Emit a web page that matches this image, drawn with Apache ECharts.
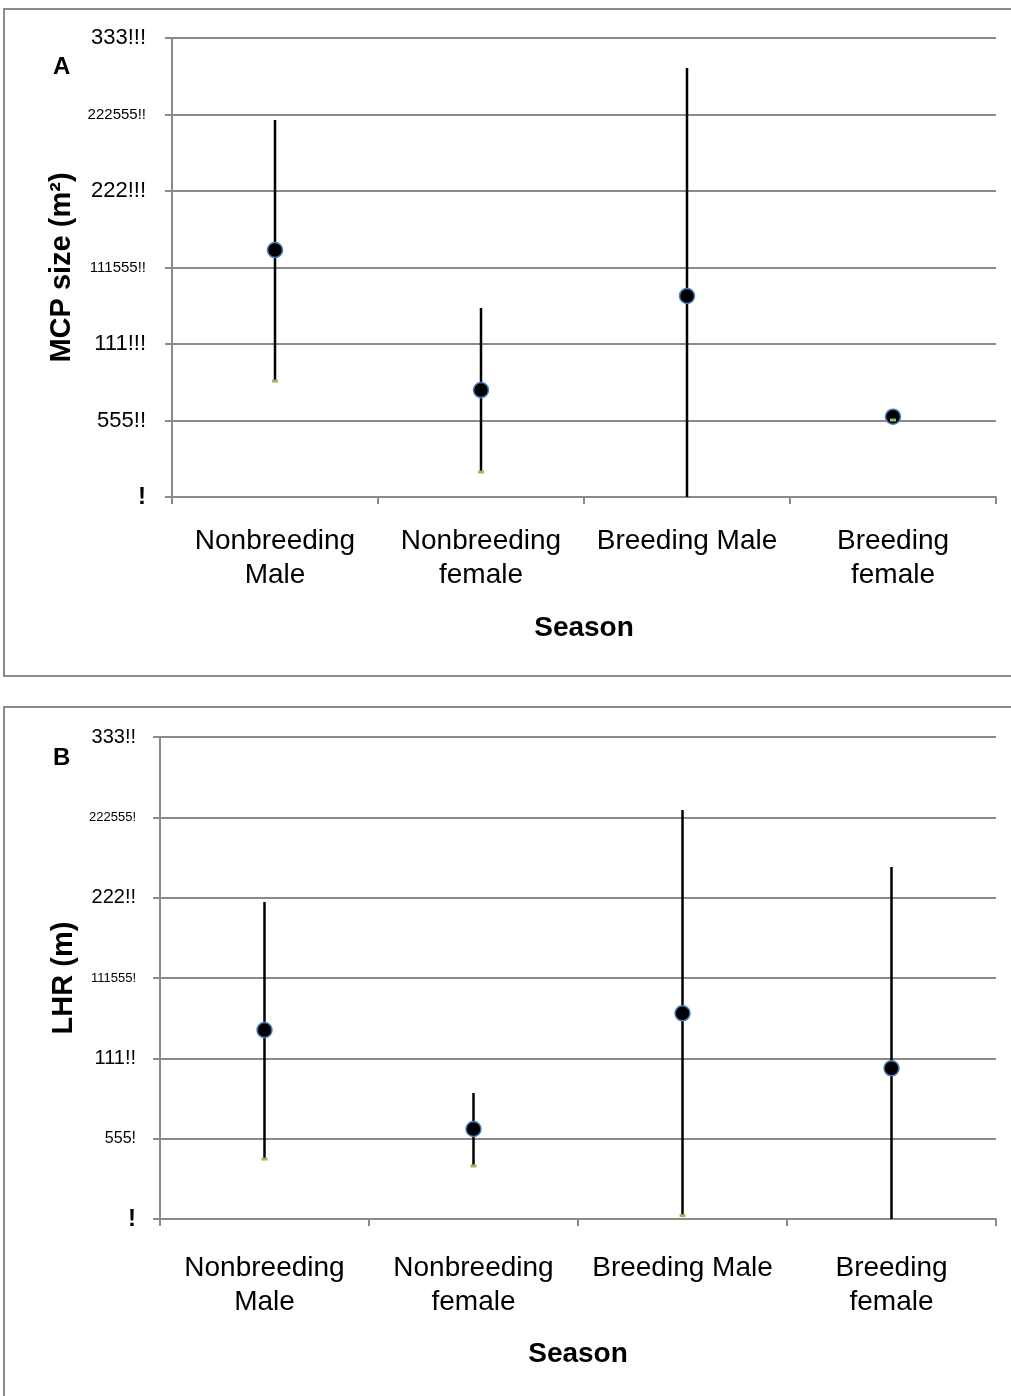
<!DOCTYPE html>
<html>
<head>
<meta charset="utf-8">
<script src="https://cdn.jsdelivr.net/npm/echarts@6/dist/echarts.min.js"></script>
<style>
  html, body { margin: 0; padding: 0; background: #fff; }
  #chart { width: 1011px; height: 1396px; }
</style>
</head>
<body>
<div id="chart"></div>
<script>
// Seasonal groups on the x axis
const seasons = ['Nonbreeding\nMale', 'Nonbreeding\nfemale', 'Breeding Male', 'Breeding\nfemale'];

// Tick label text for each panel's y axis (0 .. 3000 in steps of 500)
const mcpTickLabels = ['!', '555!!', '111!!!', '111555!!', '222!!!', '222555!!', '333!!!'];
const lhrTickLabels = ['!', '555!', '111!!', '111555!', '222!!', '222555!', '333!!'];

// Panel A: MCP size – mean with upper and lower range
const mcpMean = [1614, 699, 1314, 525];
const mcpHigh = [2464, 1235, 2804, 545];
const mcpLow  = [758, 163, 0, 503];

// Panel B: LHR – mean with upper and lower range
const lhrMean = [1176, 560, 1280, 938];
const lhrHigh = [1973, 784, 2546, 2191];
const lhrLow  = [373, 330, 21, 0];

const GRID_GRAY = '#8a8a8a';
const SANS = "'Liberation Sans', Arial, sans-serif";

function tickFormatter(labels) {
  return function (v) {
    const s = labels[Math.round(v / 500)];
    if (s === undefined) return '';
    let key = 'n';
    if (s === '!') key = 'z';
    else if (/^\d{6}/.test(s)) key = 's';
    else if (s.length <= 4) key = 'm';
    return '{' + key + '|' + s + '}';
  };
}

function yAxisFor(idx, labels, name, nameGap, margin, big, small, mid) {
  return {
    type: 'value', gridIndex: idx, min: 0, max: 3000, interval: 500,
    name: name, nameLocation: 'middle', nameRotate: 90, nameGap: nameGap,
    nameTextStyle: { fontFamily: SANS, fontWeight: 'bold', fontSize: 29, color: '#000' },
    axisLine: { show: true, lineStyle: { color: GRID_GRAY, width: 2 } },
    axisTick: { show: true, length: 7, lineStyle: { color: GRID_GRAY, width: 2 } },
    splitLine: { show: true, lineStyle: { color: GRID_GRAY, width: 2 } },
    axisLabel: {
      margin: margin, color: '#000',
      formatter: tickFormatter(labels),
      rich: {
        n: { fontFamily: SANS, fontSize: big, color: '#000' },
        m: { fontFamily: SANS, fontSize: mid, color: '#000' },
        s: { fontFamily: SANS, fontSize: small, color: '#000' },
        z: { fontFamily: SANS, fontSize: 24, fontWeight: 'bold', color: '#000' }
      }
    }
  };
}

function xAxisFor(idx, labelMargin, nameGap) {
  return {
    type: 'category', gridIndex: idx, data: seasons, boundaryGap: true,
    name: 'Season', nameLocation: 'middle', nameGap: nameGap,
    nameTextStyle: { fontFamily: SANS, fontWeight: 'bold', fontSize: 28, color: '#000' },
    axisLine: { show: true, lineStyle: { color: GRID_GRAY, width: 2 } },
    axisTick: { show: true, length: 7, lineStyle: { color: GRID_GRAY, width: 2 } },
    axisLabel: { margin: labelMargin, fontFamily: SANS, fontSize: 28, lineHeight: 34, color: '#000', interval: 0 },
    splitLine: { show: false }
  };
}

// Vertical range line from low to high for each category
function rangeSeries(idx, high, low) {
  return {
    type: 'custom', xAxisIndex: idx, yAxisIndex: idx, z: 2,
    data: high.map((h, i) => [i, low[i], h]),
    encode: { x: 0, y: [1, 2] },
    renderItem: function (params, api) {
      const p1 = api.coord([api.value(0), api.value(1)]);
      const p2 = api.coord([api.value(0), api.value(2)]);
      return {
        type: 'line',
        shape: { x1: p1[0], y1: p1[1], x2: p2[0], y2: p2[1] },
        style: { stroke: '#000', lineWidth: 2.5 }
      };
    }
  };
}

function meanSeries(idx, mean) {
  return {
    type: 'scatter', xAxisIndex: idx, yAxisIndex: idx, z: 3,
    data: mean, symbol: 'circle', symbolSize: 15,
    itemStyle: { color: '#000', borderColor: '#4a7ebb', borderWidth: 1.5, opacity: 1 }
  };
}

function lowSeries(idx, low) {
  return {
    type: 'scatter', xAxisIndex: idx, yAxisIndex: idx, z: 4,
    data: low.map(v => (v > 0 ? v : '-')), symbol: 'rect', symbolSize: [6, 3],
    itemStyle: { color: '#9bbb59', opacity: 1 }
  };
}

const chart = echarts.init(document.getElementById('chart'), null, { renderer: 'canvas' });
chart.setOption({
  backgroundColor: '#fff',
  animation: false,
  title: [
    { text: 'A', left: 53, top: 55, padding: 0, textStyle: { fontFamily: SANS, fontSize: 24, fontWeight: 'bold', color: '#000' } },
    { text: 'B', left: 53, top: 746, padding: 0, textStyle: { fontFamily: SANS, fontSize: 24, fontWeight: 'bold', color: '#000' } }
  ],
  graphic: [
    { type: 'rect', silent: true, shape: { x: 4, y: 9, width: 1030, height: 667 }, style: { fill: null, stroke: GRID_GRAY, lineWidth: 2 } },
    { type: 'rect', silent: true, shape: { x: 4, y: 707, width: 1030, height: 720 }, style: { fill: null, stroke: GRID_GRAY, lineWidth: 2 } }
  ],
  grid: [
    { left: 172, top: 38, width: 824, height: 459, containLabel: false },
    { left: 160, top: 737, width: 836, height: 482, containLabel: false }
  ],
  xAxis: [xAxisFor(0, 27, 117), xAxisFor(1, 32, 121)],
  yAxis: [
    yAxisFor(0, mcpTickLabels, 'MCP size (m²)', 76, 26, 22, 15, 22),
    yAxisFor(1, lhrTickLabels, 'LHR (m)', 76, 24, 20, 13, 16)
  ],
  series: [
    rangeSeries(0, mcpHigh, mcpLow), meanSeries(0, mcpMean), lowSeries(0, mcpLow),
    rangeSeries(1, lhrHigh, lhrLow), meanSeries(1, lhrMean), lowSeries(1, lhrLow)
  ]
});
</script>
</body>
</html>
